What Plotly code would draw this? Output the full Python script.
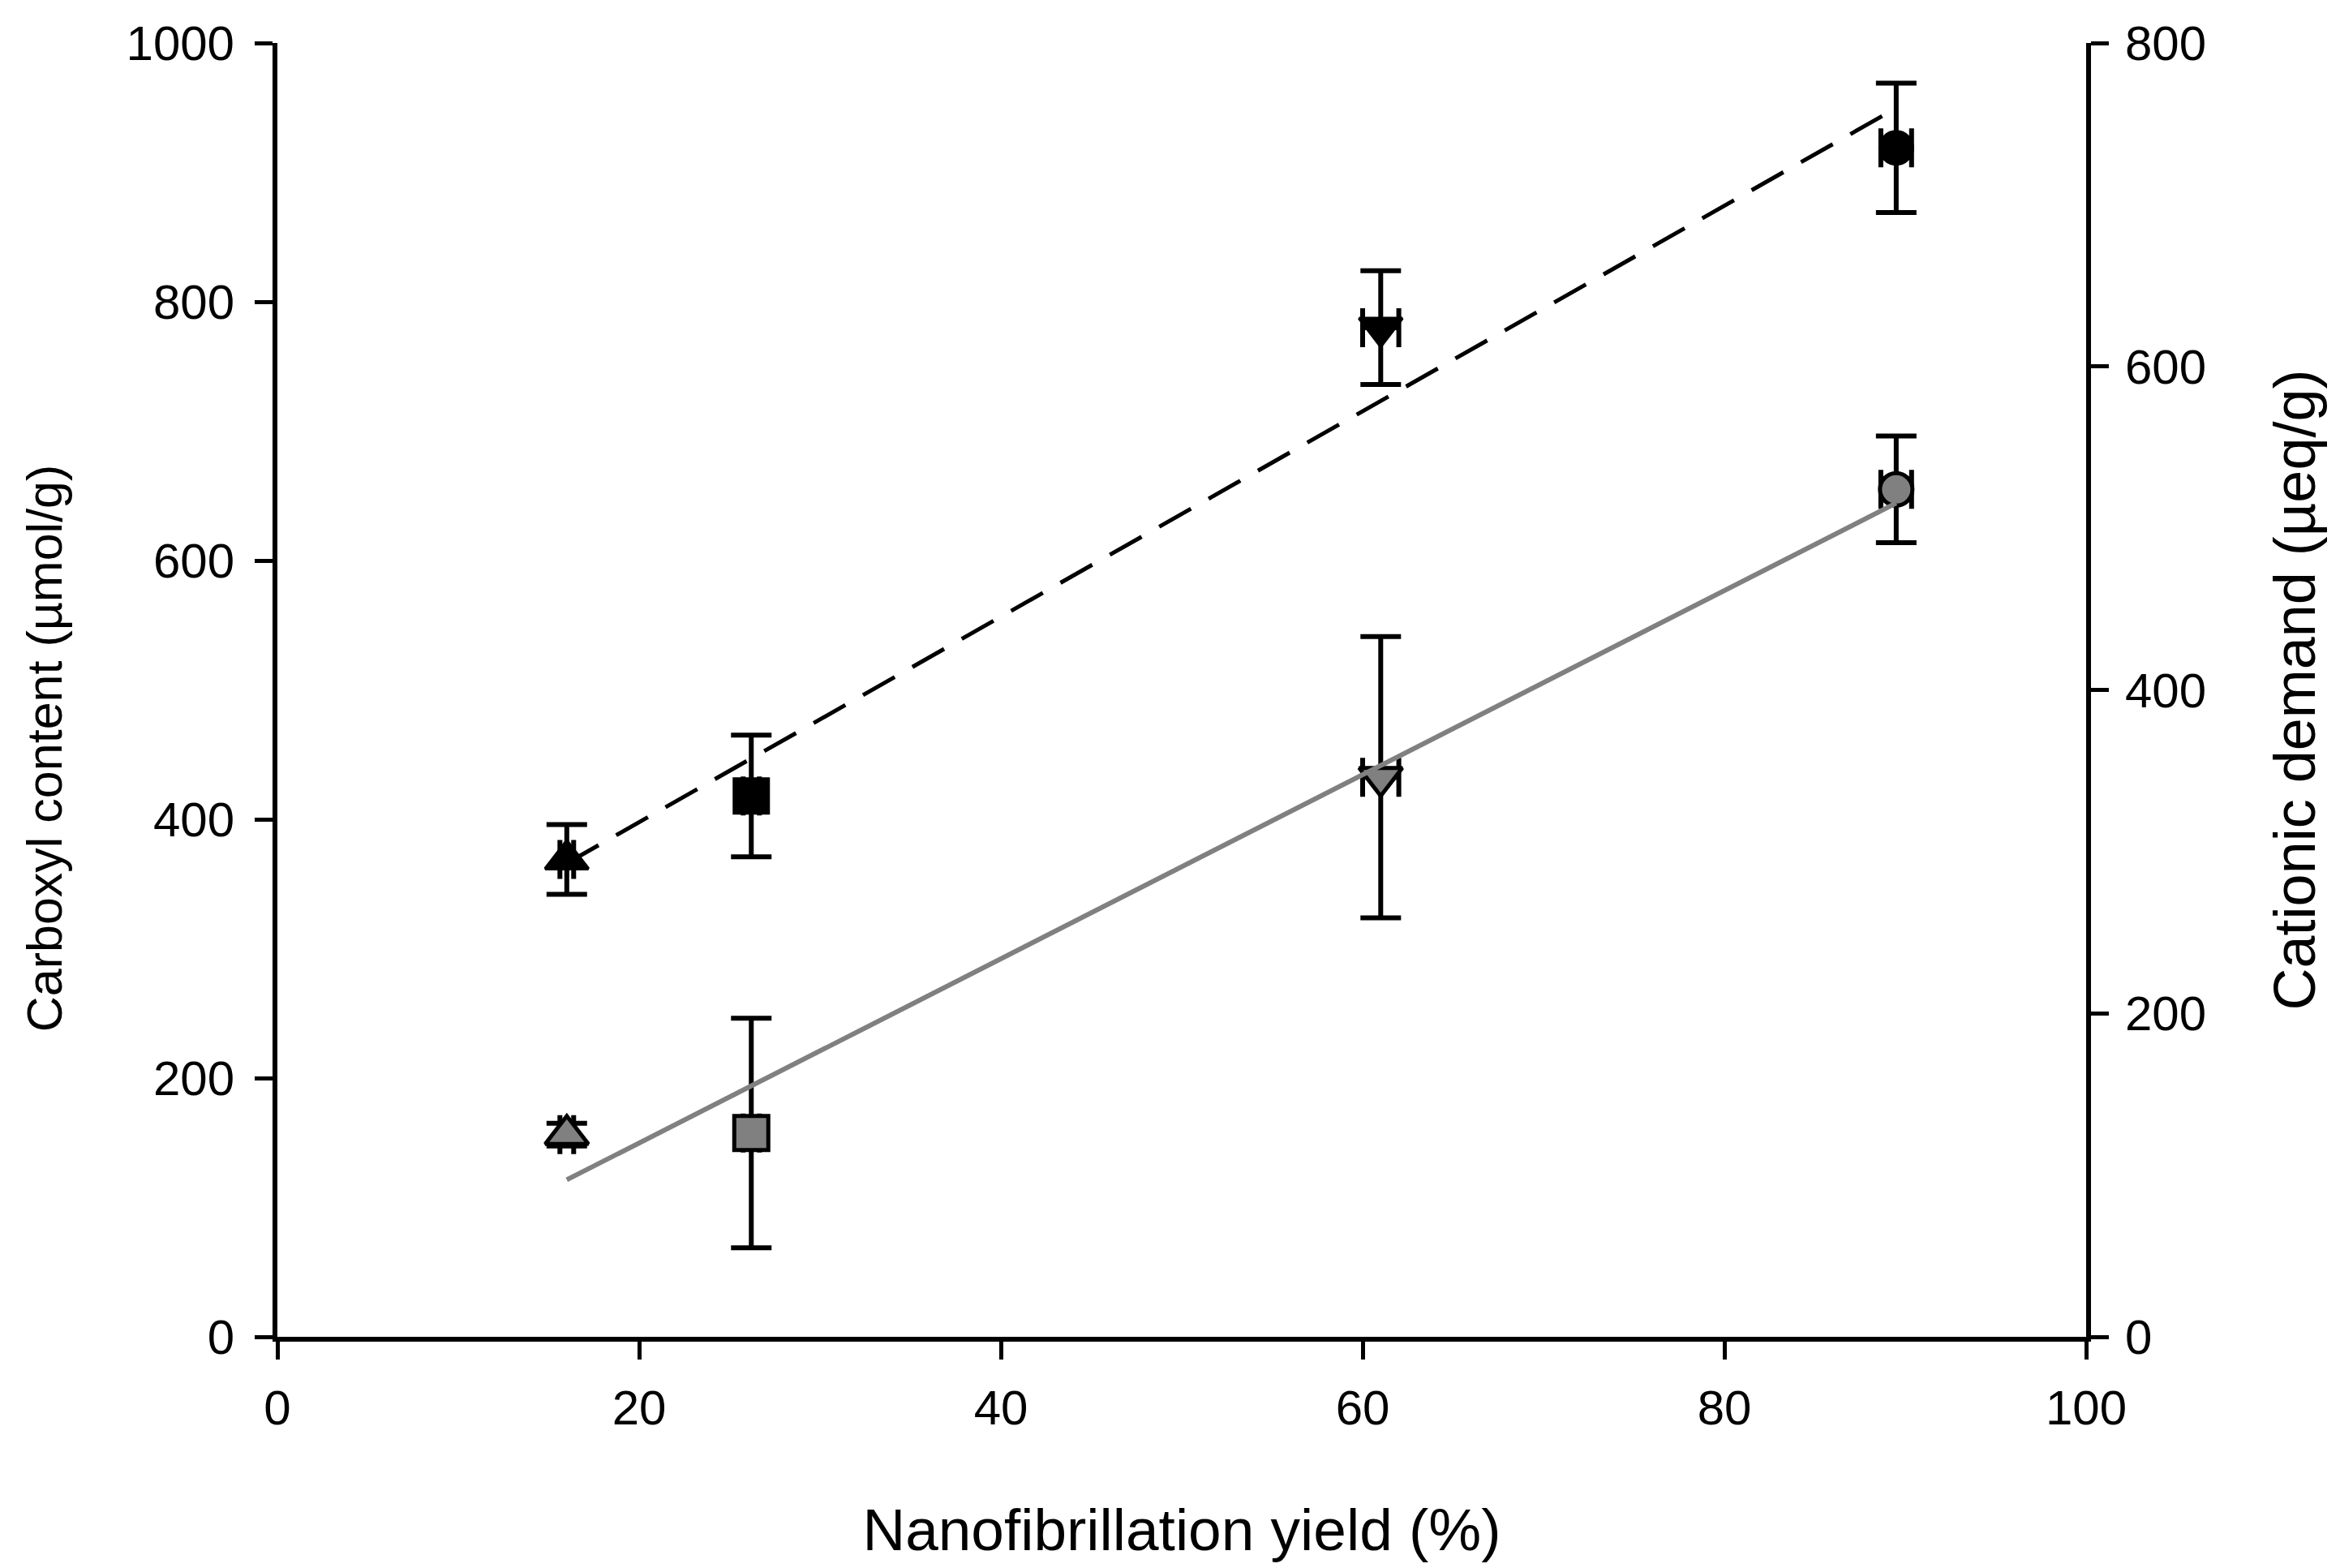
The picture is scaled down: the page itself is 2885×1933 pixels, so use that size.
import numpy as np
import plotly.graph_objects as go

# Data
yield_pct = [16.0, 26.2, 61.0, 89.5]
yield_err = [0.38, 0.45, 1.0, 0.85]
symbols = ["triangle-up", "square", "triangle-down", "circle"]

carboxyl = [369, 418, 780, 919]
carboxyl_err = [27, 47, 44, 50]

cationic = [125, 126, 346, 524]
cationic_err = [7, 71, 87, 33]

x_ticks = [0, 20, 40, 60, 80, 100]
y1_ticks = [0, 200, 400, 600, 800, 1000]
y2_ticks = [0, 200, 400, 600, 800]

FONT = "Liberation Sans, Arial, sans-serif"
sizes = [46, 42, 46, 40]

fig = go.Figure()

fig.add_trace(go.Scatter(
    x=yield_pct, y=carboxyl, mode="markers",
    marker=dict(symbol=symbols, size=sizes, color="black", opacity=1,
                line=dict(color="black", width=4)),
    error_y=dict(type="data", array=carboxyl_err, color="black", thickness=6, width=25),
    error_x=dict(type="data", array=yield_err, color="black", thickness=6, width=24),
    yaxis="y", showlegend=False, cliponaxis=False))

fig.add_trace(go.Scatter(
    x=yield_pct, y=cationic, mode="markers",
    marker=dict(symbol=symbols, size=sizes, color="#808080", opacity=1,
                line=dict(color="black", width=5)),
    error_y=dict(type="data", array=cationic_err, color="black", thickness=6, width=25),
    error_x=dict(type="data", array=yield_err, color="black", thickness=6, width=24),
    yaxis="y2", showlegend=False, cliponaxis=False))

# Linear regression trend lines from the data
xs = np.array([min(yield_pct), max(yield_pct)])
p1 = np.polyfit(yield_pct, carboxyl, 1)
p2 = np.polyfit(yield_pct, cationic, 1)

fig.add_trace(go.Scatter(
    x=xs, y=np.polyval(p1, xs), mode="lines",
    line=dict(color="black", width=5, dash="45px,25px"),
    yaxis="y", showlegend=False))
fig.add_trace(go.Scatter(
    x=xs, y=np.polyval(p2, xs), mode="lines",
    line=dict(color="#808080", width=6),
    yaxis="y2", showlegend=False))

axis_common = dict(
    showline=True, linecolor="black", linewidth=6,
    ticks="outside", tickcolor="black", tickwidth=5, ticklen=22,
    showgrid=False, zeroline=False,
    tickfont=dict(family=FONT, size=60, color="black"),
)

PLOT_LEFT = 334

fig.update_layout(
    width=2885, height=1933,
    paper_bgcolor="white", plot_bgcolor="white",
    margin=dict(l=PLOT_LEFT, r=321, t=41, b=293),
    font=dict(family=FONT, color="black"),
    xaxis=dict(range=[0, 100], tickvals=x_ticks, ticklabelstandoff=8,
               title=dict(text="Nanofibrillation yield (%)",
                          font=dict(family=FONT, size=73), standoff=94),
               **axis_common),
    yaxis=dict(range=[0, 1000], tickvals=y1_ticks, ticklabelstandoff=13,
               **axis_common),
    yaxis2=dict(range=[0, 800], tickvals=y2_ticks, overlaying="y", side="right",
                anchor="x", ticklabelstandoff=8,
                title=dict(text="Cationic demand (µeq/g)",
                           font=dict(family=FONT, size=72), standoff=86),
                **axis_common),
    annotations=[dict(
        text="Carboxyl content (µmol/g)", textangle=-90,
        xref="paper", yref="paper", x=0, y=0.455,
        xanchor="center", yanchor="middle", xshift=47 - PLOT_LEFT,
        showarrow=False, font=dict(family=FONT, size=61, color="black"))],
)

fig.write_html("out.html")
